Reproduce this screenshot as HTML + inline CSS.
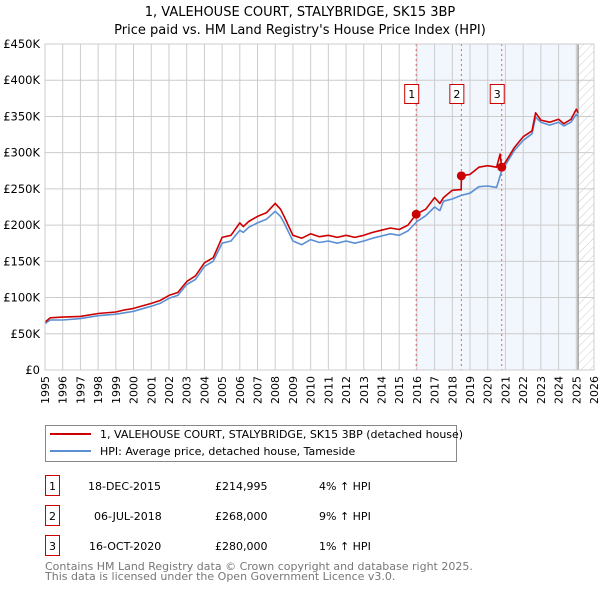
<!DOCTYPE html>
<html><head><meta charset="utf-8"><style>
body{margin:0;background:#fff;font-family:"DejaVu Sans","Liberation Sans",sans-serif;}
svg text{font-family:"DejaVu Sans","Liberation Sans",sans-serif;}
</style></head><body>
<svg id="chart" width="600" height="590" xmlns="http://www.w3.org/2000/svg">
<defs><pattern id="hatch" width="6" height="6" patternUnits="userSpaceOnUse" patternTransform="rotate(45)"><line x1="0" y1="0" x2="0" y2="6" stroke="#ccc" stroke-width="1"/></pattern></defs>
<text x="300" y="16" text-anchor="middle" font-size="13">1, VALEHOUSE COURT, STALYBRIDGE, SK15 3BP</text>
<text x="300" y="34" text-anchor="middle" font-size="13">Price paid vs. HM Land Registry's House Price Index (HPI)</text>
<g id="plot"></g>
<g>
<rect x="45.5" y="425.5" width="411" height="36" fill="#fff" stroke="#888"/>
<line x1="50" y1="434" x2="91" y2="434" stroke="#cc0000" stroke-width="2"/>
<text x="100" y="438" font-size="11">1, VALEHOUSE COURT, STALYBRIDGE, SK15 3BP (detached house)</text>
<line x1="50" y1="451" x2="91" y2="451" stroke="#5b8fd4" stroke-width="2"/>
<text x="100" y="455" font-size="11">HPI: Average price, detached house, Tameside</text>
</g>
<g font-size="11">
<rect x="45.5" y="475.5" width="14" height="20" fill="#fff" stroke="#cc0000"/><text x="52.5" y="490" text-anchor="middle">1</text>
<text x="88" y="490">18-DEC-2015</text><text x="215" y="490">£214,995</text><text x="319" y="490">4% ↑ HPI</text>
<rect x="45.5" y="505.5" width="14" height="20" fill="#fff" stroke="#cc0000"/><text x="52.5" y="520" text-anchor="middle">2</text>
<text x="94" y="520">06-JUL-2018</text><text x="215" y="520">£268,000</text><text x="319" y="520">9% ↑ HPI</text>
<rect x="45.5" y="535.5" width="14" height="20" fill="#fff" stroke="#cc0000"/><text x="52.5" y="550" text-anchor="middle">3</text>
<text x="89" y="550">16-OCT-2020</text><text x="215" y="550">£280,000</text><text x="319" y="550">1% ↑ HPI</text>
</g>
<text x="45" y="570" font-size="11" fill="#777">Contains HM Land Registry data © Crown copyright and database right 2025.</text>
<text x="45" y="580" font-size="11" fill="#777">This data is licensed under the Open Government Licence v3.0.</text>
</svg>
<script>
const yTicks=[0,50,100,150,200,250,300,350,400,450];
const yTickLabels=["£0","£50K","£100K","£150K","£200K","£250K","£300K","£350K","£400K","£450K"];
const years=[1995,1996,1997,1998,1999,2000,2001,2002,2003,2004,2005,2006,2007,2008,2009,2010,2011,2012,2013,2014,2015,2016,2017,2018,2019,2020,2021,2022,2023,2024,2025,2026];
const hpiT=[1995,1995.3,1996,1997,1998,1999,1999.5,2000,2001,2001.5,2002,2002.5,2003,2003.5,2004,2004.5,2005,2005.5,2006,2006.2,2006.5,2007,2007.5,2008,2008.3,2008.5,2009,2009.5,2010,2010.5,2011,2011.5,2012,2012.5,2013,2013.5,2014,2014.5,2015,2015.5,2016,2016.5,2017,2017.3,2017.5,2018,2018.5,2019,2019.5,2020,2020.5,2020.8,2021,2021.5,2022,2022.5,2022.7,2023,2023.5,2024,2024.3,2024.7,2025,2025.1];
const hpiV=[64,69,69,71,75,77,79,81,88,92,99,103,118,125,143,150,175,178,193,190,197,203,208,219,212,203,178,173,180,176,178,175,178,175,178,182,185,188,186,192,205,213,225,220,233,236,241,244,253,254,252,276,283,303,317,326,349,342,338,342,337,342,353,350];
const priceT=[1995,1995.3,1996,1997,1998,1999,1999.5,2000,2001,2001.5,2002,2002.5,2003,2003.5,2004,2004.5,2005,2005.5,2006,2006.2,2006.5,2007,2007.5,2008,2008.3,2008.5,2009,2009.5,2010,2010.5,2011,2011.5,2012,2012.5,2013,2013.5,2014,2014.5,2015,2015.5,2015.96,2016.5,2017,2017.3,2017.5,2018,2018.5,2018.51,2019,2019.5,2020,2020.5,2020.7,2020.79,2021,2021.5,2022,2022.5,2022.7,2023,2023.5,2024,2024.3,2024.7,2025,2025.1];
const priceV=[66,72,73,74,78,80,83,85,92,96,103,107,122,130,148,155,183,186,203,198,205,212,217,230,222,212,186,182,188,184,186,183,186,183,186,190,193,196,194,200,215,222,238,230,238,248,249,268,270,280,282,280,298,280,287,307,322,330,355,345,342,346,340,346,360,355];
const saleT=[2015.96,2018.51,2020.79];
const saleV=[214.995,268,280];
const saleLabels=["1","2","3"];

const L=45,R=594,T=44,B=370,x0=1995,x1=2026,yMax=450;
const xs=t=>L+(t-x0)/(x1-x0)*(R-L);
const ys=v=>B-v/yMax*(B-T);
const NS="http://www.w3.org/2000/svg";
const g=document.getElementById('plot');
function mk(tag,attrs){const e=document.createElementNS(NS,tag);for(const k in attrs)e.setAttribute(k,attrs[k]);g.appendChild(e);return e;}
let e;
e=mk('rect',{x:xs(saleT[0]),y:T,width:xs(2025.1)-xs(saleT[0]),height:B-T,fill:'#f2f6fd'});


e=mk('rect',{x:xs(2025.1),y:T,width:R-xs(2025.1),height:B-T,fill:'url(#hatch)'});


years.forEach((yr,i)=>{
 e=mk('line',{x1:xs(yr),x2:xs(yr),y1:T,y2:B,stroke:'#ccc','stroke-width':1});
 
 
 e=mk('text',{x:0,y:0,'font-size':11,'text-anchor':'end',transform:`translate(${xs(yr)+4},376) rotate(-90)`});
 e.textContent=yr;
 
 
});
yTicks.forEach((v,i)=>{
 e=mk('line',{x1:L,x2:R,y1:ys(v),y2:ys(v),stroke:'#ccc','stroke-width':1});
 
 
 e=mk('text',{x:40,y:ys(v)+4,'font-size':11.5,'text-anchor':'end'});
 e.textContent=yTickLabels[i];
 
 
});
e=mk('line',{x1:xs(2025.1),x2:xs(2025.1),y1:T,y2:B,stroke:'#888','stroke-width':1.2});


saleT.forEach((t,i)=>{
 e=mk('line',{x1:xs(t),x2:xs(t),y1:T,y2:B,stroke:'#e06060','stroke-width':1,'stroke-dasharray':'2,3'});
 
 
});
function path(tA,vA,col,name){
 const d=tA.map((t,i)=>(i?'L':'M')+xs(t).toFixed(1)+','+ys(vA[i]).toFixed(1)).join('');
 e=mk('path',{d:d,fill:'none',stroke:col,'stroke-width':1.6,'stroke-linejoin':'round'});
 
 
}
path(hpiT,hpiV,'#5b8fd4','hpi-line');
path(priceT,priceV,'#cc0000','price-line');
saleT.forEach((t,i)=>{
 e=mk('circle',{cx:xs(t),cy:ys(saleV[i]),r:4.5,fill:'#cc0000'});
 
 
 e=mk('rect',{x:xs(t)-11.5,y:84.5,width:14,height:19,fill:'#fff',stroke:'#cc0000'});
 
 
 e=mk('text',{x:xs(t)-4.5,y:98,'font-size':11,'text-anchor':'middle'});
 e.textContent=saleLabels[i];
 
 
});
e=mk('rect',{x:L,y:T,width:R-L,height:B-T,fill:'none',stroke:'#ccc'});


</script>
</body></html>
